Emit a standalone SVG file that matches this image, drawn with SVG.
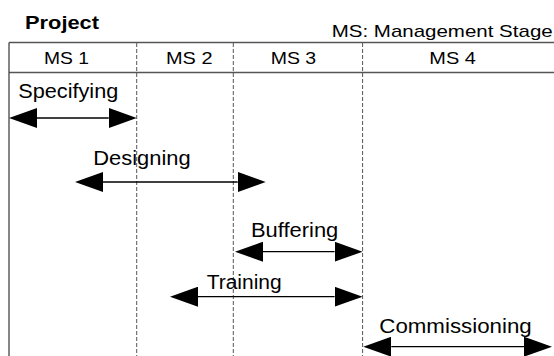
<svg xmlns="http://www.w3.org/2000/svg" width="554" height="356" viewBox="0 0 554 356">
<style>
text{font-family:"Liberation Sans",Arial,sans-serif;fill:#000}
.title{font-size:19px;font-weight:bold}
.hdr{font-size:17px}
.lbl{font-size:20px}
.hline{stroke:#555;stroke-width:1.6;fill:none}
.vsolid{stroke:#444;stroke-width:1.3;fill:none}
.vdash{stroke:#555;stroke-width:1;stroke-dasharray:4,2;fill:none}
.bar{stroke:#000;stroke-width:1.3;fill:none;marker-start:url(#ah);marker-end:url(#ah)}
</style>
<defs>
<marker id="ah" viewBox="0 0 28 20" refX="0" refY="10" markerWidth="28" markerHeight="20" markerUnits="userSpaceOnUse" orient="auto-start-reverse">
<path d="M0,0 L28,10 L0,20 z" fill="#000"/>
</marker>
</defs>
<g id="table">
<text class="title" x="25" y="29.3" textLength="74" lengthAdjust="spacingAndGlyphs">Project</text>
<text class="hdr" x="331.7" y="36.5" textLength="221" lengthAdjust="spacingAndGlyphs">MS: Management Stage</text>
<line class="hline" x1="9" y1="42.5" x2="554" y2="42.5"/>
<line class="hline" x1="9" y1="72.5" x2="554" y2="72.5"/>
<line class="vsolid" x1="9" y1="42.5" x2="9" y2="356"/>
<line class="vdash" x1="136.7" y1="43" x2="136.7" y2="356"/>
<line class="vdash" x1="233.3" y1="43" x2="233.3" y2="356"/>
<line class="vdash" x1="362.6" y1="43" x2="362.6" y2="356"/>
</g>
<g id="ms1"><text class="hdr" x="44" y="64" textLength="45" lengthAdjust="spacingAndGlyphs">MS 1</text></g>
<g id="ms2"><text class="hdr" x="166" y="64" textLength="46.5" lengthAdjust="spacingAndGlyphs">MS 2</text></g>
<g id="ms3"><text class="hdr" x="270.7" y="64" textLength="45.5" lengthAdjust="spacingAndGlyphs">MS 3</text></g>
<g id="ms4"><text class="hdr" x="429.3" y="64" textLength="46.5" lengthAdjust="spacingAndGlyphs">MS 4</text></g>
<g id="specifying"><text class="lbl" x="18.3" y="98.3" textLength="100" lengthAdjust="spacingAndGlyphs">Specifying</text></g>
<g id="designing"><text class="lbl" x="93.3" y="165" textLength="97.4" lengthAdjust="spacingAndGlyphs">Designing</text></g>
<g id="buffering"><text class="lbl" x="251" y="237.3" textLength="87.3" lengthAdjust="spacingAndGlyphs">Buffering</text></g>
<g id="training"><text class="lbl" x="206.7" y="289.3" textLength="75" lengthAdjust="spacingAndGlyphs">Training</text></g>
<g id="commissioning"><text class="lbl" x="379.3" y="333.3" textLength="152.4" lengthAdjust="spacingAndGlyphs">Commissioning</text></g>
<g id="connectors">
<line class="bar" x1="37" y1="118" x2="108.7" y2="118"/>
<line class="bar" x1="103" y1="182" x2="237.7" y2="182"/>
<line class="bar" x1="263" y1="251.7" x2="334.6" y2="251.7"/>
<line class="bar" x1="198" y1="296.7" x2="334.6" y2="296.7"/>
<line class="bar" x1="391.3" y1="346.7" x2="524" y2="346.7"/>
</g>
</svg>
